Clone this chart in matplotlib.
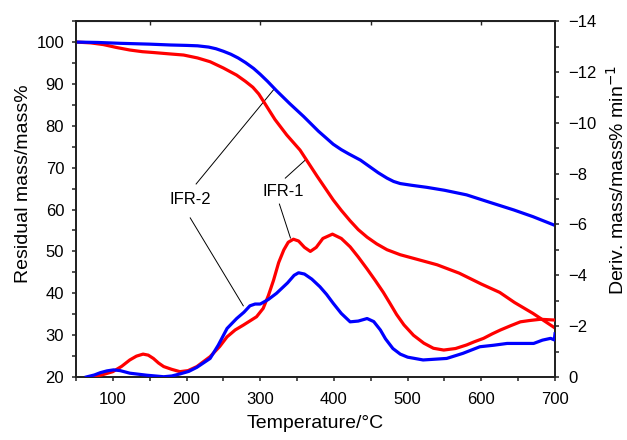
import matplotlib
matplotlib.use("Agg")
import matplotlib.pyplot as plt
from matplotlib.ticker import MultipleLocator

# TG curves (residual mass %, left axis)
t_tg2 = [50, 80, 110, 150, 178, 200, 215, 230, 240, 250, 260, 270, 280, 291, 300, 310, 322,
         340, 359, 379, 390, 399, 410, 420, 436, 448, 460, 472, 481, 490, 505, 526, 550,
         580, 610, 644, 670, 700]
tg2 = [100, 99.9, 99.7, 99.5, 99.3, 99.2, 99.1, 98.8, 98.4, 97.8, 97.1, 96.2, 95.1, 93.7,
       92.3, 90.6, 88.4, 85.3, 82.2, 78.7, 77.0, 75.6, 74.3, 73.3, 71.8, 70.3, 68.8, 67.5,
       66.7, 66.2, 65.8, 65.3, 64.6, 63.5, 61.8, 59.9, 58.3, 56.2]

t_tg1 = [50, 70, 87, 105, 123, 140, 155, 175, 196, 215, 232, 250, 268, 280, 290, 298, 306,
         320, 336, 354, 377, 399, 410, 422, 433, 445, 458, 472, 490, 513, 540, 570, 600,
         625, 645, 670, 700]
tg1 = [100, 99.8, 99.4, 98.7, 98.1, 97.7, 97.5, 97.2, 96.9, 96.2, 95.3, 93.8, 92.1, 90.6,
       89.2, 87.6, 85.4, 81.5, 77.8, 74.2, 68.0, 62.3, 59.8, 57.3, 55.2, 53.4, 51.8, 50.4,
       49.2, 48.1, 46.8, 44.8, 42.2, 40.2, 37.8, 35.2, 31.7]

# DTG curves (deriv. mass %/min, right axis)
t_dtg1 = [72, 85, 100, 112, 123, 132, 141, 148, 155, 162, 169, 180, 191, 202, 214, 232, 245,
          255, 266, 277, 295, 304, 311, 318, 325, 332, 338, 345, 352, 360, 368, 376, 385,
          398, 410, 422, 433, 445, 456, 467, 476, 485, 495, 508, 522, 535, 549, 565, 580,
          590, 603, 615, 626, 640, 653, 665, 680, 700]
dtg1 = [0, -0.08, -0.21, -0.42, -0.67, -0.82, -0.9, -0.86, -0.73, -0.55, -0.41, -0.3, -0.21,
        -0.25, -0.41, -0.8, -1.2, -1.58, -1.85, -2.04, -2.37, -2.7, -3.2, -3.8, -4.5, -5.0,
        -5.3, -5.42, -5.35, -5.1, -4.94, -5.1, -5.45, -5.62, -5.45, -5.12, -4.72, -4.25, -3.8,
        -3.33, -2.9, -2.46, -2.05, -1.64, -1.33, -1.13, -1.06, -1.12, -1.26, -1.38, -1.52,
        -1.7, -1.85, -2.02, -2.17, -2.22, -2.27, -2.24]

t_dtg2 = [64, 75, 83, 92, 101, 110, 123, 146, 169, 180, 191, 203, 214, 232, 243, 255, 268,
          278, 286, 293, 300, 311, 322, 337, 346, 352, 360, 370, 381, 390, 399, 410, 422,
          433, 445, 454, 463, 470, 480, 490, 500, 521, 537, 553, 575, 598, 617, 635, 655,
          671, 683, 694, 699, 700]
dtg2 = [0, -0.08, -0.17, -0.24, -0.28, -0.25, -0.15, -0.07, -0.01, -0.04, -0.12, -0.22,
        -0.38, -0.73, -1.25, -1.91, -2.3, -2.55, -2.8, -2.87, -2.87, -3.05, -3.29, -3.7, -4.0,
        -4.1, -4.05, -3.85, -3.55, -3.25, -2.9, -2.5, -2.17, -2.2, -2.3, -2.18, -1.85, -1.5,
        -1.12, -0.9, -0.78, -0.67, -0.7, -0.73, -0.93, -1.19, -1.25, -1.32, -1.32, -1.32,
        -1.45, -1.52, -1.46, -1.7]

plt.rcParams['font.family'] = ['Liberation Sans', 'DejaVu Sans']

fig = plt.figure(figsize=(6.27, 4.4), dpi=100)
ax = fig.add_axes([0.1212, 0.1432, 0.7640, 0.8088])
ax2 = ax.twinx()

red = '#ff0000'
blue = '#0000ff'
ax.plot(t_tg1, tg1, color=red, lw=2.3, zorder=3)
ax.plot(t_tg2, tg2, color=blue, lw=2.3, zorder=4)
ax2.plot(t_dtg1, dtg1, color=red, lw=2.3, zorder=3)
ax2.plot(t_dtg2, dtg2, color=blue, lw=2.3, zorder=4)

ax.set_xlim(50, 700)
ax.set_ylim(20, 105)
ax2.set_ylim(0, -14)

ax.set_xticks([100, 200, 300, 400, 500, 600, 700])
ax.xaxis.set_minor_locator(MultipleLocator(50))
ax.set_yticks([20, 30, 40, 50, 60, 70, 80, 90, 100])
ax.yaxis.set_minor_locator(MultipleLocator(5))
ax2.set_yticks([0, -2, -4, -6, -8, -10, -12, -14])
ax2.yaxis.set_minor_locator(MultipleLocator(1))

for a in (ax, ax2):
    for s in a.spines.values():
        s.set_linewidth(1.3)
        s.set_color('#222222')
ax.tick_params(which='both', direction='out', length=3, width=1.1, labelsize=12,
               top=False, colors='#222222', labelcolor='black')
ax.tick_params(axis='x', pad=7.5)
ax.tick_params(axis='y', pad=5.5)
ax2.tick_params(which='both', direction='out', length=3, width=1.1, labelsize=12,
                colors='#222222', labelcolor='black', pad=6.5)

top = ax.secondary_xaxis('top')
top.set_xticks([150, 300, 450, 600])
top.tick_params(direction='in', length=3, width=1.0, labeltop=False, colors='#222222')

ax.set_xlabel('Temperature/\u00b0C', fontsize=14, labelpad=6)
ax.set_ylabel('Residual mass/mass%', fontsize=14, labelpad=3)
ax2.set_ylabel('Deriv. mass/mass% min$^{-1}$', fontsize=14, labelpad=7)
ax.yaxis.label.set_y(0.542)
ax2.yaxis.label.set_y(0.553)

# annotations
ax.text(205, 62.3, 'IFR-2', fontsize=12, ha='center', va='center')
ax.plot([213, 319], [66.1, 88.8], color='black', lw=0.7)
ax.plot([205, 277], [58.0, 37.0], color='black', lw=0.7)
ax.text(331, 64.2, 'IFR-1', fontsize=12, ha='center', va='center')
ax.plot([334, 361], [67.5, 71.8], color='black', lw=0.7)
ax.plot([326, 341], [61.3, 53.2], color='black', lw=0.7)

fig.savefig('out.png', dpi=100)
